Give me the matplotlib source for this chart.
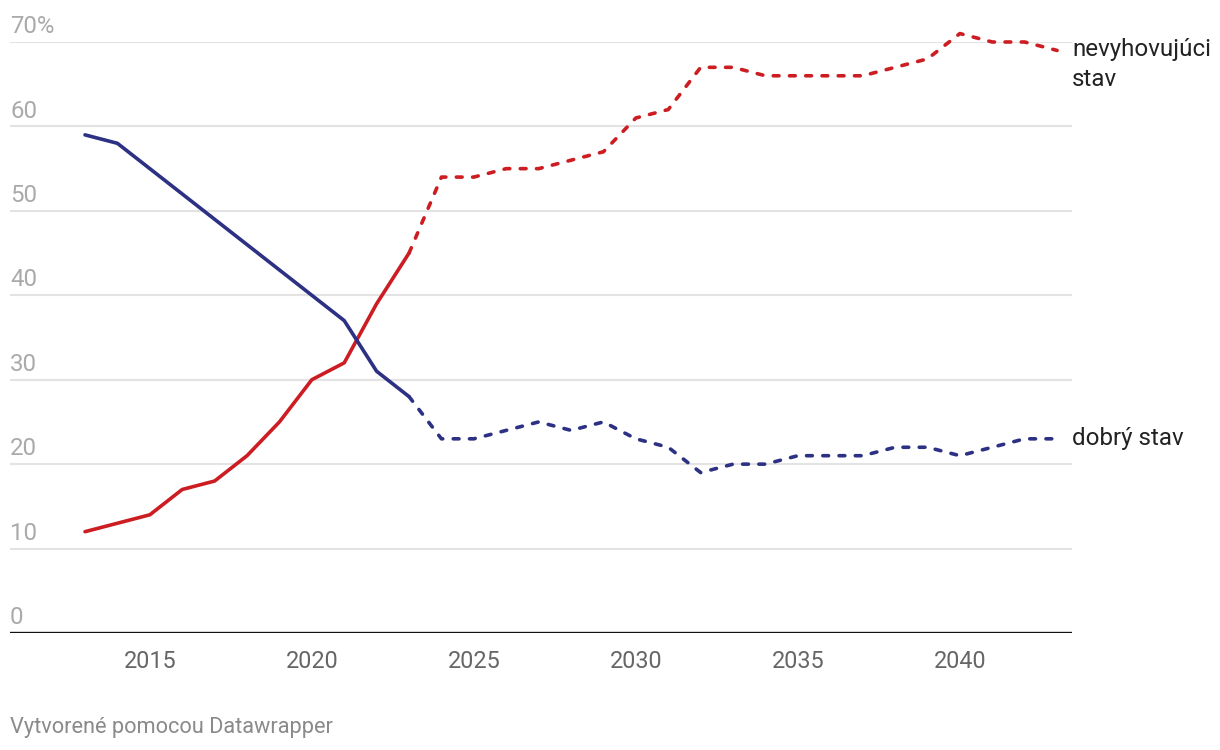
import matplotlib.pyplot as plt
import numpy as np

years = list(range(2013, 2044))
# nevyhovujuci stav (poor condition), %
bad = [12, 13, 14, 17, 18, 21, 25, 30, 32, 39, 45,
       54, 54, 55, 55, 56, 57, 61, 62, 67, 67, 66,
       66, 66, 66, 67, 68, 71, 70, 70, 69]
# dobry stav (good condition), %
good = [59, 58, 55, 52, 49, 46, 43, 40, 37, 31, 28,
        23, 23, 24, 25, 24, 25, 23, 22, 19, 20, 20,
        21, 21, 21, 22, 22, 21, 22, 23, 23]
last_actual = 2023  # solid up to here, dashed afterwards (forecast)

y_ticks = [0, 10, 20, 30, 40, 50, 60, 70]
y_labels = ['0', '10', '20', '30', '40', '50', '60', '70%']
x_ticks = [2015, 2020, 2025, 2030, 2035, 2040]

red = '#cc1e22'
blue = '#2c3183'

plt.rcParams['font.family'] = ['Roboto', 'DejaVu Sans']

fig = plt.figure(figsize=(12.2, 7.5), dpi=100)
ax = fig.add_axes([10 / 1220, 117 / 750, 1062 / 1220, 591 / 750])

x = np.array(years)
split = years.index(last_actual)

for vals, col in [(bad, red), (good, blue)]:
    v = np.array(vals)
    ax.plot(x[:split + 1], v[:split + 1], color=col, lw=2.6,
            solid_capstyle='round', solid_joinstyle='round', zorder=3,
            clip_on=False)
    ax.plot(x[split:], v[split:], color=col, lw=2.6, dashes=(1.6, 2.9),
            dash_capstyle='round', dash_joinstyle='round', zorder=3,
            clip_on=False)

ax.set_xlim(2010.685, 2043.46)
ax.set_ylim(0, 70)

# gridlines
for t in y_ticks[1:]:
    ax.axhline(t, color='#e3e3e3', lw=1.5, zorder=1)
ax.axhline(0, color='#111111', lw=1.7, zorder=2)

# y labels sit above their gridlines
for t, lab in zip(y_ticks, y_labels):
    ax.text(0, t + 1.05, lab, transform=ax.get_yaxis_transform(),
            ha='left', va='baseline', fontsize=17.3, color='#aaaaaa')

ax.set_yticks([])
ax.set_xticks(x_ticks)
ax.set_xticklabels([str(t) for t in x_ticks], fontsize=16.8, color='#666666')
ax.tick_params(axis='x', length=0, pad=12)

for s in ax.spines.values():
    s.set_visible(False)

# series labels at line ends
ax.text(1.0, bad[-1] + 1.5, 'nevyhovujúci\nstav', transform=ax.get_yaxis_transform(),
        ha='left', va='top', fontsize=17.4, color='#222222', linespacing=1.42)
ax.text(1.0, good[-1], 'dobrý stav', transform=ax.get_yaxis_transform(),
        ha='left', va='center', fontsize=17.4, color='#222222')

fig.text(10 / 1220, 1 - 728 / 750, 'Vytvorené pomocou Datawrapper',
         ha='left', va='center', fontsize=15.7, color='#8a8a8a')

fig.savefig('out.png', dpi=100)
